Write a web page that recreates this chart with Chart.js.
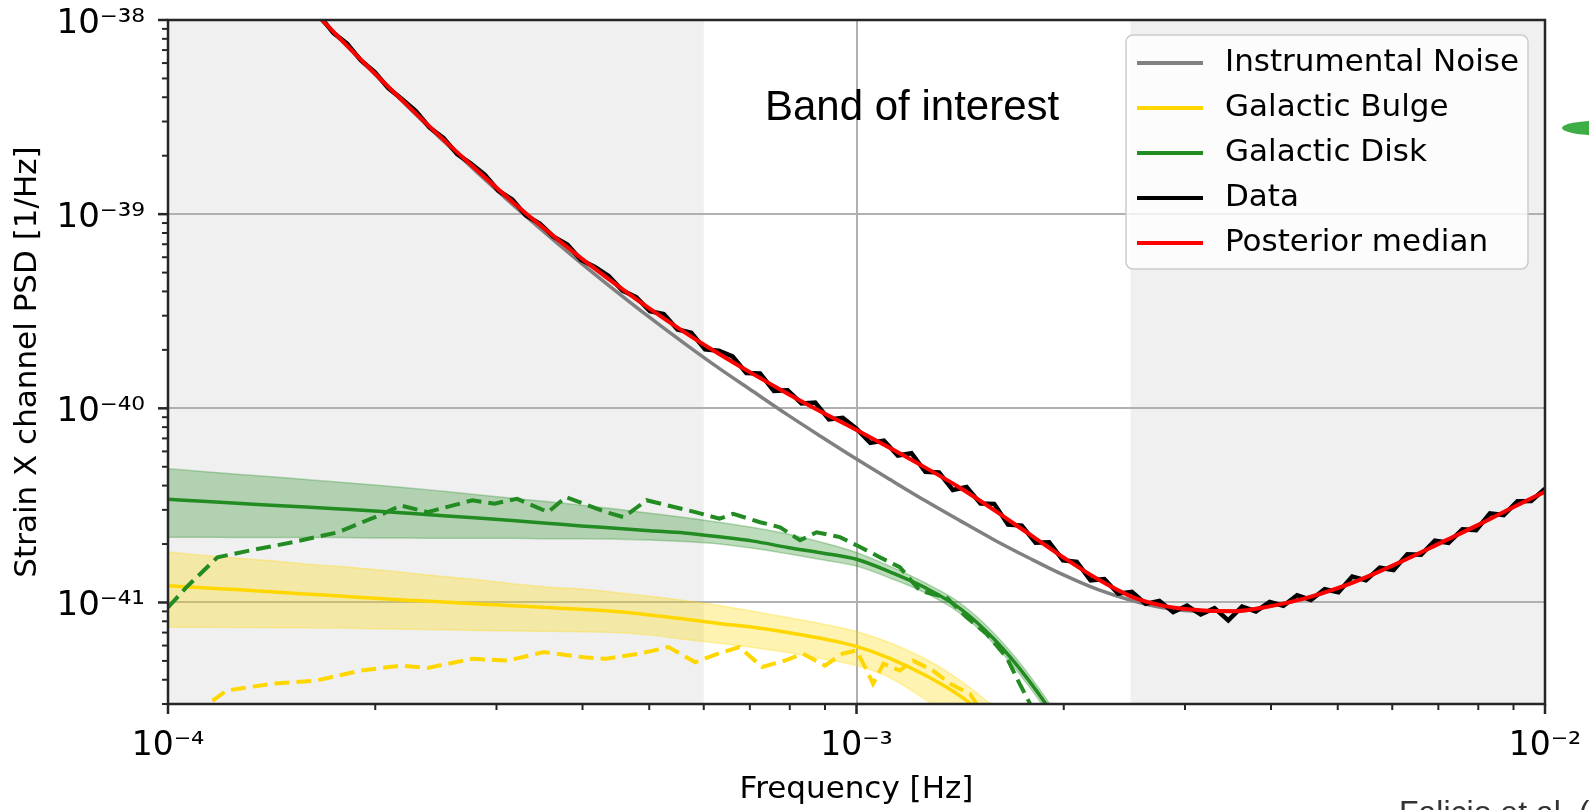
<!DOCTYPE html>
<html>
<head>
<meta charset="utf-8">
<script src="https://cdn.jsdelivr.net/npm/chart.js@4.4.1/dist/chart.umd.min.js"></script>
<style>
html,body{margin:0;padding:0;background:#ffffff;overflow:hidden}
canvas{display:block}
</style>
</head>
<body>
<canvas id="c" width="1589" height="810"></canvas>
<script>
// ---------------- data ----------------
const freqGrid = [
  1.000e-4, 1.122e-4, 1.259e-4, 1.413e-4, 1.585e-4, 1.778e-4, 1.995e-4, 2.239e-4, 2.512e-4, 2.818e-4,
  3.162e-4, 3.548e-4, 3.981e-4, 4.467e-4, 5.012e-4, 5.623e-4, 6.310e-4, 7.079e-4, 7.943e-4, 8.913e-4,
  1.000e-3, 1.122e-3, 1.259e-3, 1.413e-3, 1.585e-3, 1.778e-3, 1.995e-3, 2.239e-3, 2.512e-3, 2.818e-3,
  3.162e-3, 3.548e-3, 3.981e-3, 4.467e-3, 5.012e-3, 5.623e-3, 6.310e-3, 7.079e-3, 7.943e-3, 8.913e-3,
  1.000e-2
];
const instrumentalNoise = [
  6.93e-38, 4.46e-38, 2.87e-38, 1.86e-38, 1.21e-38, 7.98e-39, 5.28e-39, 3.53e-39, 2.38e-39, 1.63e-39,
  1.125e-39, 7.89e-40, 5.60e-40, 4.03e-40, 2.93e-40, 2.16e-40, 1.61e-40, 1.22e-40, 9.25e-41, 7.10e-41,
  5.48e-41, 4.27e-41, 3.34e-41, 2.64e-41, 2.10e-41, 1.70e-41, 1.39e-41, 1.167e-41, 1.023e-41, 9.33e-42,
  9.02e-42, 9.02e-42, 9.55e-42, 1.047e-41, 1.189e-41, 1.396e-41, 1.679e-41, 2.04e-41, 2.48e-41, 3.05e-41,
  3.72e-41
];
const posteriorMedian = [
  6.94e-38, 4.46e-38, 2.88e-38, 1.87e-38, 1.22e-38, 8.02e-39, 5.32e-39, 3.57e-39, 2.42e-39, 1.67e-39,
  1.16e-39, 8.24e-40, 5.94e-40, 4.36e-40, 3.25e-40, 2.47e-40, 1.91e-40, 1.50e-40, 1.19e-40, 9.55e-41,
  7.74e-41, 6.21e-41, 4.95e-41, 3.90e-41, 2.99e-41, 2.26e-41, 1.71e-41, 1.32e-41, 1.07e-41, 9.55e-42,
  9.12e-42, 9.02e-42, 9.55e-42, 1.047e-41, 1.189e-41, 1.396e-41, 1.679e-41, 2.04e-41, 2.48e-41, 3.05e-41,
  3.72e-41
];
// Galactic disk model (first 28 grid frequencies)
const diskMedian = [
  3.40e-41, 3.32e-41, 3.24e-41, 3.17e-41, 3.10e-41, 3.03e-41, 2.96e-41, 2.88e-41, 2.80e-41, 2.72e-41,
  2.64e-41, 2.56e-41, 2.48e-41, 2.41e-41, 2.34e-41, 2.28e-41, 2.18e-41, 2.07e-41, 1.92e-41, 1.80e-41,
  1.67e-41, 1.43e-41, 1.19e-41, 9.33e-42, 6.46e-42, 3.98e-42, 2.19e-42, 1.00e-42
];
const diskUpper = [
  4.89e-41, 4.73e-41, 4.58e-41, 4.44e-41, 4.30e-41, 4.16e-41, 4.03e-41, 3.89e-41, 3.74e-41, 3.59e-41,
  3.44e-41, 3.31e-41, 3.17e-41, 3.03e-41, 2.88e-41, 2.74e-41, 2.59e-41, 2.43e-41, 2.25e-41, 2.04e-41,
  1.81e-41, 1.53e-41, 1.26e-41, 9.95e-42, 6.92e-42, 4.27e-42, 2.34e-42, 1.07e-42
];
const diskLower = [
  2.17e-41, 2.17e-41, 2.16e-41, 2.16e-41, 2.16e-41, 2.16e-41, 2.15e-41, 2.15e-41, 2.14e-41, 2.14e-41,
  2.14e-41, 2.13e-41, 2.13e-41, 2.12e-41, 2.10e-41, 2.06e-41, 2.00e-41, 1.90e-41, 1.78e-41, 1.66e-41,
  1.54e-41, 1.33e-41, 1.12e-41, 8.81e-42, 6.10e-42, 3.72e-42, 2.04e-42, 9.3e-43
];
// Galactic bulge model (first 27 grid frequencies)
const bulgeMedian = [
  1.22e-41, 1.19e-41, 1.165e-41, 1.135e-41, 1.107e-41, 1.079e-41, 1.052e-41, 1.028e-41, 1.005e-41, 9.82e-42,
  9.62e-42, 9.42e-42, 9.23e-42, 8.99e-42, 8.63e-42, 8.22e-42, 7.80e-42, 7.45e-42, 7.00e-42, 6.52e-42,
  5.94e-42, 5.13e-42, 4.22e-42, 3.31e-42, 2.40e-42, 1.58e-42, 1.00e-42
];
const bulgeUpper = [
  1.82e-41, 1.75e-41, 1.69e-41, 1.64e-41, 1.58e-41, 1.53e-41, 1.48e-41, 1.42e-41, 1.36e-41, 1.31e-41,
  1.25e-41, 1.20e-41, 1.175e-41, 1.127e-41, 1.076e-41, 1.023e-41, 9.66e-42, 9.02e-42, 8.36e-42, 7.76e-42,
  7.08e-42, 6.17e-42, 5.13e-42, 3.98e-42, 2.88e-42, 1.91e-42, 1.17e-42
];
const bulgeLower = [
  7.46e-42, 7.45e-42, 7.43e-42, 7.41e-42, 7.40e-42, 7.38e-42, 7.33e-42, 7.28e-42, 7.23e-42, 7.18e-42,
  7.14e-42, 7.11e-42, 7.06e-42, 7.00e-42, 6.79e-42, 6.46e-42, 6.17e-42, 5.86e-42, 5.52e-42, 5.13e-42,
  4.73e-42, 4.07e-42, 3.16e-42, 2.40e-42, 1.74e-42, 1.12e-42, 6.3e-43
];
// measured data (black)
const dataFreq = [
  1.585e-4, 1.660e-4, 1.738e-4, 1.820e-4, 1.905e-4, 1.995e-4, 2.089e-4, 2.188e-4, 2.291e-4, 2.399e-4,
  2.512e-4, 2.630e-4, 2.754e-4, 2.884e-4, 3.020e-4, 3.162e-4, 3.311e-4, 3.467e-4, 3.631e-4, 3.802e-4,
  3.981e-4, 4.169e-4, 4.365e-4, 4.571e-4, 4.786e-4, 5.012e-4, 5.248e-4, 5.495e-4, 5.754e-4, 6.026e-4,
  6.310e-4, 6.607e-4, 6.918e-4, 7.244e-4, 7.586e-4, 7.943e-4, 8.318e-4, 8.710e-4, 9.120e-4, 9.550e-4,
  1.000e-3, 1.047e-3, 1.096e-3, 1.148e-3, 1.202e-3, 1.259e-3, 1.318e-3, 1.380e-3, 1.445e-3, 1.514e-3,
  1.585e-3, 1.660e-3, 1.738e-3, 1.820e-3, 1.905e-3, 1.995e-3, 2.089e-3, 2.188e-3, 2.291e-3, 2.399e-3,
  2.512e-3, 2.630e-3, 2.754e-3, 2.884e-3, 3.020e-3, 3.162e-3, 3.311e-3, 3.467e-3, 3.631e-3, 3.802e-3,
  3.981e-3, 4.169e-3, 4.365e-3, 4.571e-3, 4.786e-3, 5.012e-3, 5.248e-3, 5.495e-3, 5.754e-3, 6.026e-3,
  6.310e-3, 6.607e-3, 6.918e-3, 7.244e-3, 7.586e-3, 7.943e-3, 8.318e-3, 8.710e-3, 9.120e-3, 9.550e-3,
  1.000e-2
];
const dataPSD = [
  1.22e-38, 1.05e-38, 8.59e-39, 7.55e-39, 6.21e-39, 5.40e-39, 4.46e-39, 3.91e-39, 3.40e-39, 2.79e-39,
  2.47e-39, 2.04e-39, 1.82e-39, 1.60e-39, 1.32e-39, 1.19e-39, 9.84e-40, 8.95e-40, 7.66e-40, 6.97e-40,
  5.81e-40, 5.35e-40, 4.81e-40, 4.04e-40, 3.74e-40, 3.16e-40, 3.06e-40, 2.55e-40, 2.45e-40, 2.01e-40,
  1.98e-40, 1.85e-40, 1.52e-40, 1.51e-40, 1.23e-40, 1.24e-40, 1.06e-40, 1.07e-40, 8.77e-41, 8.93e-41,
  7.85e-41, 6.64e-41, 6.82e-41, 5.71e-41, 5.87e-41, 4.71e-41, 4.67e-41, 3.80e-41, 3.93e-41, 3.23e-41,
  3.22e-41, 2.52e-41, 2.49e-41, 2.03e-41, 2.04e-41, 1.65e-41, 1.62e-41, 1.30e-41, 1.32e-41, 1.11e-41,
  1.135e-41, 9.84e-42, 1.02e-41, 8.91e-42, 9.64e-42, 8.67e-42, 9.35e-42, 8.09e-42, 9.53e-42, 8.99e-42,
  1.005e-41, 9.62e-42, 1.09e-41, 1.03e-41, 1.17e-41, 1.13e-41, 1.36e-41, 1.30e-41, 1.51e-41, 1.47e-41,
  1.77e-41, 1.76e-41, 2.08e-41, 2.03e-41, 2.38e-41, 2.36e-41, 2.88e-41, 2.82e-41, 3.32e-41, 3.33e-41,
  3.85e-41
];
// Galactic disk injected (dashed green)
const diskDataFreq = [
  1.000e-4, 1.064e-4, 1.180e-4, 1.312e-4, 1.524e-4, 1.766e-4, 2.051e-4, 2.178e-4, 2.382e-4, 2.767e-4,
  2.979e-4, 3.214e-4, 3.565e-4, 3.784e-4, 4.325e-4, 4.592e-4, 4.955e-4, 5.834e-4, 6.324e-4, 6.622e-4,
  7.244e-4, 7.745e-4, 8.279e-4, 8.750e-4, 9.462e-4, 1.012e-3, 1.081e-3, 1.156e-3, 1.236e-3, 1.352e-3,
  1.445e-3, 1.545e-3, 1.652e-3, 1.726e-3, 1.786e-3, 1.841e-3
];
const diskDataPSD = [
  9.42e-42, 1.20e-41, 1.71e-41, 1.85e-41, 2.05e-41, 2.30e-41, 2.86e-41, 3.16e-41, 2.92e-41, 3.36e-41,
  3.23e-41, 3.42e-41, 2.92e-41, 3.49e-41, 2.92e-41, 2.75e-41, 3.36e-41, 2.92e-41, 2.70e-41, 2.86e-41,
  2.59e-41, 2.44e-41, 2.09e-41, 2.30e-41, 2.17e-41, 1.93e-41, 1.71e-41, 1.52e-41, 1.15e-41, 1.06e-41,
  8.39e-42, 6.90e-42, 5.22e-42, 3.81e-42, 3.02e-42, 2.24e-42
];
// Galactic bulge injected (dashed gold)
const bulgeDataFreq = [
  1.100e-4, 1.146e-4, 1.216e-4, 1.413e-4, 1.641e-4, 1.905e-4, 2.178e-4, 2.382e-4, 2.767e-4, 3.112e-4,
  3.516e-4, 4.018e-4, 4.325e-4, 4.875e-4, 5.333e-4, 5.834e-4, 6.295e-4, 6.761e-4, 7.295e-4, 7.870e-4,
  8.356e-4, 8.995e-4, 9.550e-4, 1.000e-3, 1.035e-3, 1.057e-3, 1.094e-3, 1.156e-3, 1.208e-3, 1.291e-3,
  1.368e-3, 1.462e-3, 1.493e-3, 1.531e-3
];
const bulgeDataPSD = [
  2.60e-42, 3.01e-42, 3.52e-42, 3.81e-42, 3.96e-42, 4.46e-42, 4.73e-42, 4.60e-42, 5.13e-42, 5.02e-42,
  5.55e-42, 5.22e-42, 5.13e-42, 5.48e-42, 5.89e-42, 4.92e-42, 5.45e-42, 5.89e-42, 4.65e-42, 5.02e-42,
  5.45e-42, 4.73e-42, 5.45e-42, 5.66e-42, 4.46e-42, 3.81e-42, 4.83e-42, 4.46e-42, 5.02e-42, 4.46e-42,
  3.81e-42, 3.38e-42, 3.01e-42, 2.51e-42
];
const xTickValues = [1e-4, 1e-3, 1e-2];
const xTickLabels = ['10\u207B\u2074', '10\u207B\u00B3', '10\u207B\u00B2'];
const yTickValues = [1e-41, 1e-40, 1e-39, 1e-38];
const yTickLabels = ['10\u207B\u2074\u00B9', '10\u207B\u2074\u2070', '10\u207B\u00B3\u2079', '10\u207B\u00B3\u2078'];
const shadedRanges = [[1e-4, 6e-4], [2.5e-3, 1e-2]];
const legendOrder = ['Instrumental Noise', 'Galactic Bulge', 'Galactic Disk', 'Data', 'Posterior median'];

// ---------------- chart ----------------
Chart.defaults.font.family = "'DejaVu Sans', sans-serif";
const pts = (xs, ys) => ys.map((v, i) => ({x: xs[i], y: v}));
const GREEN = '#228b22', GOLD = '#ffd700';

const decor = {
  id: 'decor',
  beforeDraw(chart) {
    const {ctx, chartArea: a, scales: {x}} = chart;
    ctx.save();
    ctx.fillStyle = '#f0f0f0';
    shadedRanges.forEach(([f0, f1]) => {
      const x0 = x.getPixelForValue(f0), x1 = x.getPixelForValue(f1);
      ctx.fillRect(x0, a.top, x1 - x0, a.bottom - a.top);
    });
    ctx.restore();
  },
  afterDatasetsDraw(chart) {
    const {ctx, chartArea: a, scales: {x, y}} = chart;
    ctx.save();
    ctx.strokeStyle = '#262626';
    const xMinor = [], yMinor = [];
    [-4, -3].forEach(n => { for (let k = 2; k <= 9; k++) xMinor.push(k * Math.pow(10, n)); });
    [-42, -41, -40, -39].forEach(n => { for (let k = 2; k <= 9; k++) { const v = k * Math.pow(10, n); if (v >= y.min * 0.999) yMinor.push(v); } });
    ctx.lineWidth = 2;
    xMinor.forEach(v => { const p = x.getPixelForValue(v); ctx.beginPath(); ctx.moveTo(p, a.bottom); ctx.lineTo(p, a.bottom + 6); ctx.stroke(); });
    yMinor.forEach(v => { const p = y.getPixelForValue(v); ctx.beginPath(); ctx.moveTo(a.left, p); ctx.lineTo(a.left - 6, p); ctx.stroke(); });
    ctx.lineWidth = 2.5;
    xTickValues.forEach(v => { const p = x.getPixelForValue(v); ctx.beginPath(); ctx.moveTo(p, a.bottom); ctx.lineTo(p, a.bottom + 10); ctx.stroke(); });
    yTickValues.forEach(v => { const p = y.getPixelForValue(v); ctx.beginPath(); ctx.moveTo(a.left, p); ctx.lineTo(a.left - 10, p); ctx.stroke(); });
    ctx.lineWidth = 2.5;
    ctx.strokeRect(a.left, a.top, a.right - a.left, a.bottom - a.top);
    ctx.restore();
  },
  afterDraw(chart) {
    const {ctx, chartArea: a} = chart;
    ctx.save();
    // legend
    const bx = a.right - 419, by = a.top + 15, bw = 402, bh = 234, r = 7;
    ctx.beginPath();
    ctx.moveTo(bx + r, by);
    ctx.arcTo(bx + bw, by, bx + bw, by + bh, r);
    ctx.arcTo(bx + bw, by + bh, bx, by + bh, r);
    ctx.arcTo(bx, by + bh, bx, by, r);
    ctx.arcTo(bx, by, bx + bw, by, r);
    ctx.closePath();
    ctx.fillStyle = 'rgba(255,255,255,0.8)';
    ctx.fill();
    ctx.strokeStyle = '#cccccc';
    ctx.lineWidth = 1.5;
    ctx.stroke();
    ctx.font = "31px 'DejaVu Sans'";
    ctx.textBaseline = 'middle';
    ctx.textAlign = 'left';
    legendOrder.forEach((lab, i) => {
      const ds = chart.data.datasets.find(d => d.label === lab);
      const yy = by + 28 + i * 45;
      ctx.strokeStyle = ds.borderColor;
      ctx.lineWidth = 4;
      ctx.beginPath(); ctx.moveTo(bx + 11, yy); ctx.lineTo(bx + 77, yy); ctx.stroke();
      ctx.fillStyle = '#000';
      ctx.fillText(lab, bx + 99, yy);
    });
    // annotations
    ctx.fillStyle = '#000';
    ctx.textBaseline = 'alphabetic';
    ctx.font = "42px 'Liberation Sans'";
    ctx.fillText('Band of interest', 765, 120);
    ctx.fillStyle = '#333333';
    ctx.font = "32px 'Liberation Sans'";
    ctx.fillText('Falicio et al. (', 1399, 823);
    ctx.fillStyle = '#3dae46';
    ctx.beginPath();
    ctx.ellipse(1600, 128, 38, 7.3, 0, 0, Math.PI * 2);
    ctx.fill();
    ctx.restore();
  }
};

const line = (label, xs, ys, color, width, order, extra) => Object.assign({
  label, data: pts(xs, ys), borderColor: color, borderWidth: width, order,
  pointRadius: 0, fill: false, clip: 0, tension: 0
}, extra || {});

const smooth = {cubicInterpolationMode: 'monotone'};

new Chart(document.getElementById('c'), {
  type: 'line',
  data: {
    datasets: [
      line('Posterior median', freqGrid, posteriorMedian, '#ff0000', 4, 1, smooth),
      line('Data', dataFreq, dataPSD, '#000000', 4.5, 2),
      line('Galactic Disk (injected)', diskDataFreq, diskDataPSD, GREEN, 4, 3, {borderDash: [15, 7]}),
      line('Galactic Bulge (injected)', bulgeDataFreq, bulgeDataPSD, GOLD, 4, 4, {borderDash: [15, 7]}),
      line('Galactic Disk', freqGrid.slice(0, diskMedian.length), diskMedian, GREEN, 3.5, 5, smooth),
      line('Galactic Bulge', freqGrid.slice(0, bulgeMedian.length), bulgeMedian, GOLD, 3.5, 6, smooth),
      line('Instrumental Noise', freqGrid, instrumentalNoise, '#808080', 3.5, 7, smooth),
      line('Galactic Disk upper', freqGrid.slice(0, diskUpper.length), diskUpper, 'rgba(34,139,34,0.3)', 1.5, 8,
           Object.assign({fill: '+1', backgroundColor: 'rgba(34,139,34,0.3)'}, smooth)),
      line('Galactic Disk lower', freqGrid.slice(0, diskLower.length), diskLower, 'rgba(34,139,34,0.3)', 1.5, 8, smooth),
      line('Galactic Bulge upper', freqGrid.slice(0, bulgeUpper.length), bulgeUpper, 'rgba(255,215,0,0.3)', 1.5, 9,
           Object.assign({fill: '+1', backgroundColor: 'rgba(255,215,0,0.3)'}, smooth)),
      line('Galactic Bulge lower', freqGrid.slice(0, bulgeLower.length), bulgeLower, 'rgba(255,215,0,0.3)', 1.5, 9, smooth)
    ]
  },
  options: {
    responsive: false,
    devicePixelRatio: 1,
    animation: false,
    layout: {padding: {left: 0, right: 44, top: 20, bottom: 0}},
    plugins: {legend: {display: false}, tooltip: {enabled: false}},
    scales: {
      x: {
        type: 'logarithmic', min: 1e-4, max: 1e-2, bounds: 'data',
        afterBuildTicks: s => { s.ticks = xTickValues.map(v => ({value: v})); },
        afterFit: s => { s.height = 106; s.paddingLeft = 0; s.paddingRight = 0; },
        ticks: {callback: (v, i) => xTickLabels[i], font: {size: 33}, color: '#000', padding: 23, maxRotation: 0, autoSkip: false},
        grid: {color: '#b0b0b0', lineWidth: 2, drawTicks: false},
        border: {display: false},
        title: {display: true, text: 'Frequency [Hz]', font: {size: 31}, color: '#000', padding: {top: 0, bottom: 1}}
      },
      y: {
        type: 'logarithmic', min: 3e-42, max: 1e-38, bounds: 'data',
        afterBuildTicks: s => { s.ticks = yTickValues.map(v => ({value: v})); },
        afterFit: s => { s.width = 168; s.paddingTop = 0; s.paddingBottom = 0; },
        ticks: {callback: (v, i) => yTickLabels[i], font: {size: 34}, color: '#000', padding: 23, labelOffset: 4, autoSkip: false},
        grid: {color: '#b0b0b0', lineWidth: 2, drawTicks: false},
        border: {display: false},
        title: {display: true, text: 'Strain X channel PSD [1/Hz]', font: {size: 31}, color: '#000', padding: {top: 9, bottom: 0}}
      }
    }
  },
  plugins: [decor]
});
</script>
</body>
</html>
